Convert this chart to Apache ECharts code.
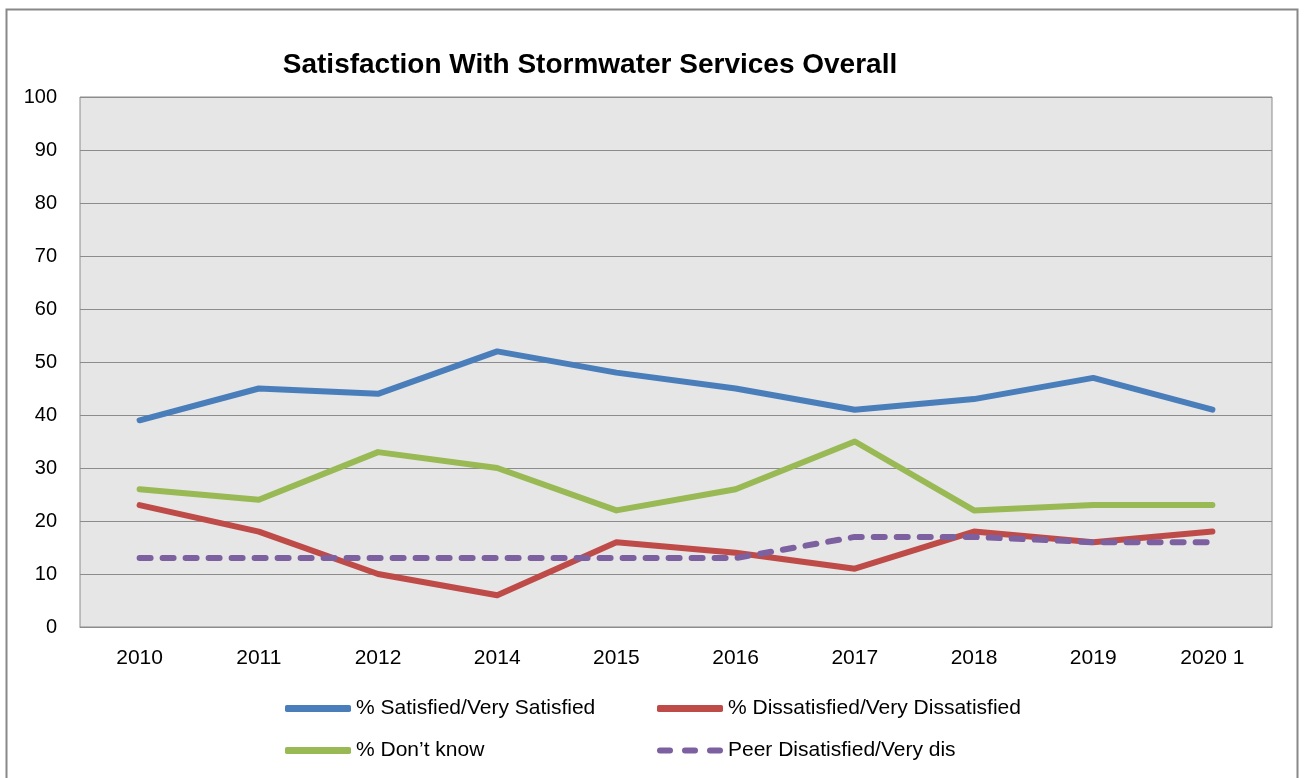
<!DOCTYPE html>
<html>
<head>
<meta charset="utf-8">
<script src="https://cdn.jsdelivr.net/npm/echarts@6/dist/echarts.min.js"></script>
<style>
html,body{margin:0;padding:0;background:#fff;}
#chart{width:1306px;height:778px;}
</style>
</head>
<body>
<div id="chart"></div>
<script>
var years = ['2010','2011','2012','2014','2015','2016','2017','2018','2019','2020 1'];
var satisfied = [39,45,44,52,48,45,41,43,47,41];
var dissatisfied = [23,18,10,6,16,14,11,18,16,18];
var dontKnow = [26,24,33,30,22,26,35,22,23,23];
var peerDis = [13,13,13,13,13,13,17,17,16,16];

var fontName = 'Liberation Sans';
// legend icons: thick rounded bar, or three dashes for the peer line
var solidIcon = 'roundRect';
var dashIcon = 'path://M3,0h10a3,3 0 0 1 0,6h-10a3,3 0 0 1 0,-6z M28,0h10a3,3 0 0 1 0,6h-10a3,3 0 0 1 0,-6z M53,0h10a3,3 0 0 1 0,6h-10a3,3 0 0 1 0,-6z';

function mkLine(name, data, color, dashed){
	return {
		name: name,
		type: 'line',
		data: data,
		symbol: 'none',
		smooth: false,
		lineStyle: {color: color, width: 6, type: dashed ? [11, 12] : 'solid', cap: 'round', join: 'round'},
		itemStyle: {color: color}
	};
}

var legendText = {fontFamily: fontName, fontSize: 21, color: '#000'};

var myChart = echarts.init(document.getElementById('chart'));
var option = {
	backgroundColor: '#fff',
	animation: false,
	title: {
		text: 'Satisfaction With Stormwater Services Overall',
		left: 585,
		top: 46,
		textAlign: 'center',
		textStyle: {fontFamily: fontName, fontSize: 28, fontWeight: 'bold', color: '#000'}
	},
	graphic: [{
		type: 'rect',
		shape: {x: 6.5, y: 9.5, width: 1291, height: 800},
		style: {fill: 'none', stroke: '#888', lineWidth: 2},
		silent: true
	}],
	grid: {
		left: 80, right: 34, top: 97, bottom: 151,
		show: true, backgroundColor: '#e6e6e6', borderColor: '#8c8c8c', borderWidth: 1
	},
	legend: [{
		orient: 'vertical',
		left: 280, top: 693,
		itemWidth: 66, itemHeight: 7, itemGap: 21,
		textStyle: legendText,
		data: [
			{name: '% Satisfied/Very Satisfied', icon: solidIcon},
			{name: '% Don\u2019t know', icon: solidIcon}
		]
	},{
		orient: 'vertical',
		left: 652, top: 693,
		itemWidth: 66, itemHeight: 7, itemGap: 21,
		textStyle: legendText,
		data: [
			{name: '% Dissatisfied/Very Dissatisfied', icon: solidIcon},
			{name: 'Peer Disatisfied/Very dis', icon: dashIcon}
		]
	}],
	xAxis: {
		type: 'category',
		data: years,
		boundaryGap: true,
		axisLine: {show: true, lineStyle: {color: '#8c8c8c'}},
		axisTick: {show: false},
		axisLabel: {fontFamily: fontName, fontSize: 21, color: '#000', margin: 21}
	},
	yAxis: {
		type: 'value',
		min: 0, max: 100, interval: 10,
		axisLine: {show: false},
		axisTick: {show: false},
		axisLabel: {fontFamily: fontName, fontSize: 20, color: '#000', margin: 23},
		splitLine: {lineStyle: {color: '#8c8c8c', width: 1}}
	},
	series: [
		mkLine('% Satisfied/Very Satisfied', satisfied, '#4a7ebb', false),
		mkLine('% Dissatisfied/Very Dissatisfied', dissatisfied, '#be4b48', false),
		mkLine('% Don\u2019t know', dontKnow, '#98b954', false),
		mkLine('Peer Disatisfied/Very dis', peerDis, '#7d60a0', true)
	]
};
myChart.setOption(option);
</script>
</body>
</html>
